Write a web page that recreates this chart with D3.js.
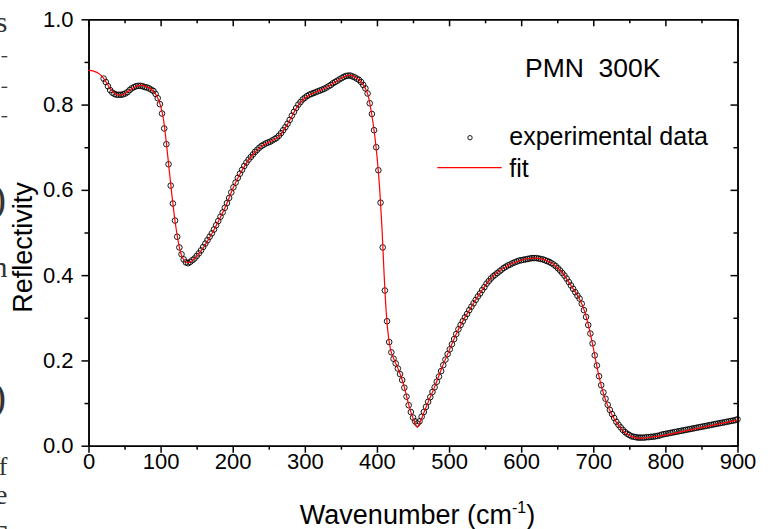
<!DOCTYPE html>
<html>
<head>
<meta charset="utf-8">
<script src="https://cdn.jsdelivr.net/npm/d3@7"></script>
<style>
  body { margin: 0; background: #fff; }
  svg { display: block; }
  .axis path, .axis line { stroke: #000; stroke-width: 1.5; }
  .axis text { font-family: "Liberation Sans", Arial, sans-serif; font-size: 22px; fill: #000; }
  .title { font-family: "Liberation Sans", Arial, sans-serif; fill: #000; }
  .stray { font-family: "Liberation Serif", "DejaVu Serif", serif; fill: #333; }
</style>
</head>
<body>
<div id="chart"></div>
<script>
// measured reflectivity (circles)
const expWavenumber = [
  21, 24, 27, 30, 33, 36, 39, 42, 45, 48,
  51, 54, 57, 60, 63, 66, 69, 72, 75, 78,
  81, 84, 87, 90, 93, 96, 99, 102, 105, 108,
  111, 114, 117, 120, 123, 126, 129, 132, 135, 138,
  141, 144, 147, 150, 153, 156, 159, 162, 165, 168,
  171, 174, 177, 180, 183, 186, 189, 192, 195, 198,
  201, 204, 207, 210, 213, 216, 219, 222, 225, 228,
  231, 234, 237, 240, 243, 246, 249, 252, 255, 258,
  261, 264, 267, 270, 273, 276, 279, 282, 285, 288,
  291, 294, 297, 300, 303, 306, 309, 312, 315, 318,
  321, 324, 327, 330, 333, 336, 339, 342, 345, 348,
  351, 354, 357, 360, 363, 366, 369, 372, 375, 378,
  381, 384, 387, 390, 393, 396, 399, 402, 405, 408,
  411, 414, 417, 420, 423, 426, 429, 432, 435, 438,
  441, 444, 447, 450, 453, 456, 459, 462, 465, 468,
  471, 474, 477, 480, 483, 486, 489, 492, 495, 498,
  501, 504, 507, 510, 513, 516, 519, 522, 525, 528,
  531, 534, 537, 540, 543, 546, 549, 552, 555, 558,
  561, 564, 567, 570, 573, 576, 579, 582, 585, 588,
  591, 594, 597, 600, 603, 606, 609, 612, 615, 618,
  621, 624, 627, 630, 633, 636, 639, 642, 645, 648,
  651, 654, 657, 660, 663, 666, 669, 672, 675, 678,
  681, 684, 687, 690, 693, 696, 699, 702, 705, 708,
  711, 714, 717, 720, 723, 726, 729, 732, 735, 738,
  741, 744, 747, 750, 753, 756, 759, 762, 765, 768,
  771, 774, 777, 780, 783, 786, 789, 792, 795, 798,
  801, 804, 807, 810, 813, 816, 819, 822, 825, 828,
  831, 834, 837, 840, 843, 846, 849, 852, 855, 858,
  861, 864, 867, 870, 873, 876, 879, 882, 885, 888,
  891, 894, 897, 900
];
const expReflectivity = [
  0.861, 0.853, 0.843, 0.834, 0.828, 0.825, 0.823, 0.823, 0.823, 0.824,
  0.826, 0.829, 0.834, 0.838, 0.841, 0.843, 0.844, 0.844, 0.843, 0.841,
  0.840, 0.838, 0.835, 0.832, 0.825, 0.815, 0.801, 0.779, 0.744, 0.707,
  0.660, 0.610, 0.568, 0.528, 0.490, 0.465, 0.449, 0.437, 0.430, 0.428,
  0.431, 0.435, 0.439, 0.445, 0.451, 0.458, 0.466, 0.474, 0.482, 0.490,
  0.498, 0.507, 0.517, 0.527, 0.537, 0.547, 0.558, 0.569, 0.581, 0.594,
  0.606, 0.617, 0.628, 0.638, 0.647, 0.656, 0.664, 0.671, 0.677, 0.683,
  0.689, 0.694, 0.699, 0.703, 0.706, 0.709, 0.711, 0.713, 0.716, 0.719,
  0.722, 0.727, 0.733, 0.740, 0.747, 0.755, 0.764, 0.774, 0.783, 0.792,
  0.800, 0.806, 0.812, 0.816, 0.820, 0.823, 0.825, 0.827, 0.829, 0.831,
  0.833, 0.835, 0.837, 0.840, 0.843, 0.846, 0.850, 0.853, 0.856, 0.859,
  0.862, 0.865, 0.867, 0.868, 0.868, 0.866, 0.864, 0.861, 0.858, 0.853,
  0.846, 0.838, 0.826, 0.803, 0.778, 0.740, 0.700, 0.646, 0.570, 0.465,
  0.364, 0.292, 0.243, 0.219, 0.204, 0.193, 0.181, 0.168, 0.154, 0.136,
  0.115, 0.095, 0.079, 0.066, 0.057, 0.052, 0.057, 0.068, 0.079, 0.091,
  0.103, 0.114, 0.126, 0.137, 0.150, 0.162, 0.175, 0.189, 0.202, 0.215,
  0.226, 0.238, 0.250, 0.262, 0.273, 0.283, 0.292, 0.301, 0.309, 0.318,
  0.326, 0.334, 0.342, 0.350, 0.357, 0.365, 0.372, 0.380, 0.386, 0.392,
  0.397, 0.401, 0.405, 0.409, 0.413, 0.417, 0.420, 0.423, 0.425, 0.428,
  0.430, 0.432, 0.434, 0.435, 0.436, 0.437, 0.438, 0.439, 0.440, 0.440,
  0.440, 0.439, 0.438, 0.437, 0.435, 0.433, 0.431, 0.428, 0.425, 0.421,
  0.416, 0.411, 0.405, 0.399, 0.392, 0.384, 0.376, 0.368, 0.360, 0.352,
  0.345, 0.333, 0.318, 0.302, 0.283, 0.263, 0.240, 0.212, 0.188, 0.163,
  0.142, 0.125, 0.110, 0.096, 0.084, 0.074, 0.065, 0.056, 0.049, 0.043,
  0.037, 0.032, 0.028, 0.025, 0.022, 0.021, 0.020, 0.019, 0.019, 0.019,
  0.019, 0.020, 0.020, 0.021, 0.021, 0.022, 0.023, 0.024, 0.026, 0.027,
  0.028, 0.029, 0.030, 0.031, 0.032, 0.033, 0.034, 0.035, 0.036, 0.037,
  0.038, 0.039, 0.040, 0.041, 0.042, 0.043, 0.044, 0.045, 0.046, 0.047,
  0.048, 0.049, 0.050, 0.051, 0.052, 0.053, 0.054, 0.055, 0.056, 0.057,
  0.058, 0.059, 0.060, 0.062
];

// fit curve (red line)
const fitWavenumber = [
  0, 8, 15, 20, 25, 30, 35, 40, 45, 50, 55, 60, 65, 70, 75, 80, 85, 90, 95,
  100, 104, 108, 112, 116, 120, 124, 128, 132, 136, 140, 145, 150, 160, 170,
  180, 190, 200, 210, 220, 230, 240, 250, 258, 265, 272, 280, 288, 295, 305,
  315, 325, 335, 345, 355, 362, 370, 378, 384, 388, 392, 396, 400, 404, 407,
  410, 413, 416, 419, 423, 428, 433, 438, 443, 448, 452, 456, 460, 465, 470,
  480, 490, 500, 510, 520, 530, 540, 550, 560, 570, 580, 590, 600, 610, 620,
  630, 640, 650, 660, 670, 680, 688, 695, 700, 705, 710, 715, 720, 730, 740,
  750, 760, 770, 780, 800, 820, 840, 860, 880, 900
];
const fitReflectivity = [
  0.880, 0.878, 0.872, 0.864, 0.851, 0.838, 0.828, 0.823, 0.822, 0.825, 0.831, 0.837, 0.842, 0.845, 0.845, 0.842, 0.838, 0.831, 0.819,
  0.797, 0.765, 0.710, 0.645, 0.583, 0.527, 0.483, 0.452, 0.436, 0.429, 0.430, 0.436, 0.444, 0.466, 0.494,
  0.526, 0.561, 0.602, 0.637, 0.665, 0.687, 0.702, 0.712, 0.718, 0.727, 0.743, 0.766, 0.791, 0.807, 0.821,
  0.829, 0.836, 0.845, 0.856, 0.866, 0.869, 0.864, 0.853, 0.838, 0.820, 0.785, 0.740, 0.680, 0.597, 0.510,
  0.400, 0.310, 0.255, 0.225, 0.205, 0.186, 0.164, 0.137, 0.103, 0.074, 0.056, 0.043, 0.056, 0.077, 0.098,
  0.138, 0.182, 0.223, 0.262, 0.295, 0.323, 0.350, 0.375, 0.396, 0.410, 0.421, 0.429, 0.435, 0.439, 0.440,
  0.437, 0.430, 0.418, 0.399, 0.373, 0.347, 0.315, 0.270, 0.230, 0.186, 0.148, 0.118, 0.094, 0.060, 0.037,
  0.024, 0.018, 0.018, 0.020, 0.025, 0.032, 0.039, 0.046, 0.053, 0.060
];

const xMajorTicks = [0, 100, 200, 300, 400, 500, 600, 700, 800, 900];
const xMinorTicks = [50, 150, 250, 350, 450, 550, 650, 750, 850];
const yMajorTicks = [0.0, 0.2, 0.4, 0.6, 0.8, 1.0];
const yMinorTicks = [0.1, 0.3, 0.5, 0.7, 0.9];
const legendLabels = ["experimental data", "fit"];
const sampleLabel = "PMN  300K";

const width = 771, height = 529;
const plot = { left: 88.5, right: 737.5, top: 19.3, bottom: 445.7 };

const svg = d3.select('#chart').append('svg')
  .attr('width', width)
  .attr('height', height);

const x = d3.scaleLinear().domain([0, 900]).range([plot.left, plot.right]);
const y = d3.scaleLinear().domain([0, 1]).range([plot.bottom, plot.top]);

// bits of the neighbouring page text, cut at the left edge
const stray = svg.append('g').attr('class', 'stray').attr('text-anchor', 'end');
stray.append('text').attr('x', 7.5).attr('y', 32).style('font-size', '30px').text('s');
[56.7, 87.3, 116.7].forEach(yy => {
  stray.append('line').attr('x1', 1.5).attr('x2', 7.3).attr('y1', yy).attr('y2', yy)
    .attr('stroke', '#333').attr('stroke-width', 1.3);
});
stray.append('text').attr('x', 6).attr('y', 212).style('font-size', '40px').text(')');
stray.append('text').attr('x', 7.5).attr('y', 277).style('font-size', '30px').text('n');
stray.append('text').attr('x', 6).attr('y', 410).style('font-size', '40px').text(')');
stray.append('text').attr('x', 7.5).attr('y', 475).style('font-size', '26px').text('f');
stray.append('text').attr('x', 7.5).attr('y', 504).style('font-size', '28px').text('e');
stray.append('text').attr('x', 7.5).attr('y', 545).style('font-size', '30px').text('Γ');

// axes: bottom / left with labels, top / right mirrored inside
const gx = svg.append('g').attr('class', 'axis').attr('transform', `translate(0,${plot.bottom})`);
gx.call(d3.axisBottom(x).tickValues(xMajorTicks).tickSize(7).tickSizeOuter(0).tickPadding(1).tickFormat(d3.format('d')));
gx.append('g').call(d3.axisBottom(x).tickValues(xMinorTicks).tickSize(4).tickSizeOuter(0).tickFormat(''));

const gxTop = svg.append('g').attr('class', 'axis').attr('transform', `translate(0,${plot.top})`);
gxTop.call(d3.axisBottom(x).tickValues(xMajorTicks).tickSize(7).tickSizeOuter(0).tickFormat(''));
gxTop.append('g').call(d3.axisBottom(x).tickValues(xMinorTicks).tickSize(4).tickSizeOuter(0).tickFormat(''));

const gy = svg.append('g').attr('class', 'axis').attr('transform', `translate(${plot.left},0)`);
gy.call(d3.axisLeft(y).tickValues(yMajorTicks).tickSize(7).tickSizeOuter(0).tickPadding(8).tickFormat(d3.format('.1f')));
gy.append('g').call(d3.axisLeft(y).tickValues(yMinorTicks).tickSize(4).tickSizeOuter(0).tickFormat(''));

const gyRight = svg.append('g').attr('class', 'axis').attr('transform', `translate(${plot.right},0)`);
gyRight.call(d3.axisLeft(y).tickValues(yMajorTicks).tickSize(7).tickSizeOuter(0).tickFormat(''));
gyRight.append('g').call(d3.axisLeft(y).tickValues(yMinorTicks).tickSize(4).tickSizeOuter(0).tickFormat(''));

// data circles
const expData = expWavenumber.map((w, i) => ({ w: w, r: expReflectivity[i] }));
svg.append('g')
  .selectAll('circle')
  .data(expData)
  .join('circle')
  .attr('cx', d => x(d.w))
  .attr('cy', d => y(d.r))
  .attr('r', 2.8)
  .attr('fill', 'none')
  .attr('stroke', '#000')
  .attr('stroke-width', 0.9);

// fit line on top
const fitData = fitWavenumber.map((w, i) => ({ w: w, r: fitReflectivity[i] }));
const line = d3.line()
  .x(d => x(d.w))
  .y(d => y(d.r))
  .curve(d3.curveMonotoneX);
svg.append('path')
  .datum(fitData)
  .attr('d', line)
  .attr('fill', 'none')
  .attr('stroke', '#ff0000')
  .attr('stroke-width', 1.2);

// axis titles
svg.append('text')
  .attr('class', 'title')
  .attr('transform', 'translate(32,247.5) rotate(-90)')
  .attr('text-anchor', 'middle')
  .style('font-size', '27px')
  .text('Reflectivity');

const xt = svg.append('text')
  .attr('class', 'title')
  .attr('x', 417.5)
  .attr('y', 524)
  .attr('text-anchor', 'middle')
  .style('font-size', '27px');
xt.append('tspan').text('Wavenumber (cm');
xt.append('tspan').attr('dy', -11).style('font-size', '16px').text('-1');
xt.append('tspan').attr('dy', 11).text(')');

// sample label and legend
svg.append('text')
  .attr('class', 'title')
  .attr('x', 525)
  .attr('y', 76.7)
  .style('font-size', '26.5px')
  .style('white-space', 'pre')
  .text(sampleLabel);

svg.append('circle')
  .attr('cx', 470).attr('cy', 137.7).attr('r', 2.2)
  .attr('fill', 'none').attr('stroke', '#000').attr('stroke-width', 0.9);
svg.append('text')
  .attr('class', 'title')
  .attr('x', 509.3).attr('y', 145)
  .style('font-size', '25px')
  .text(legendLabels[0]);
svg.append('line')
  .attr('x1', 437.3).attr('x2', 501.7).attr('y1', 167.7).attr('y2', 167.7)
  .attr('stroke', '#ff0000').attr('stroke-width', 1.2);
svg.append('text')
  .attr('class', 'title')
  .attr('x', 509.3).attr('y', 176.5)
  .style('font-size', '25px')
  .text(legendLabels[1]);
</script>
</body>
</html>
